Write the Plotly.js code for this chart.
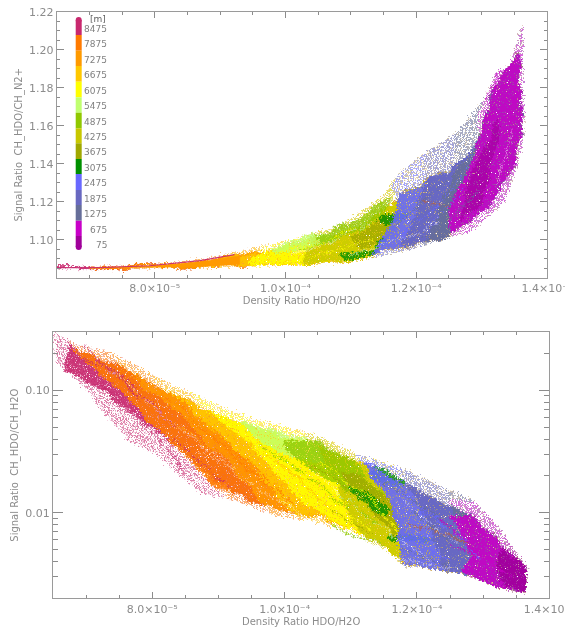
<!DOCTYPE html>
<html><head><meta charset="utf-8">
<script src="https://cdn.plot.ly/plotly-3.0.1.min.js"></script>
<style>html,body{margin:0;padding:0;background:#fff}#plot{width:565px;height:630px;filter:blur(0.45px)}</style>
</head><body>
<svg width="0" height="0" style="position:absolute"><defs>
<filter id="fray" x="-3%" y="-3%" width="106%" height="106%" color-interpolation-filters="sRGB">
 <feTurbulence type="fractalNoise" baseFrequency="0.05" numOctaves="2" seed="11" result="w"/>
 <feDisplacementMap in="SourceGraphic" in2="w" scale="10" xChannelSelector="R" yChannelSelector="G" result="d0"/>
 <feTurbulence type="fractalNoise" baseFrequency="0.42" numOctaves="2" seed="4" result="n"/>
 <feDisplacementMap in="d0" in2="n" scale="7" xChannelSelector="R" yChannelSelector="G" result="d"/>
 <feTurbulence type="fractalNoise" baseFrequency="1.1" numOctaves="1" seed="9" result="s"/>
 <feColorMatrix in="s" type="matrix" values="0 0 0 0 0 0 0 0 0 0 0 0 0 0 0 0 0 0 7 -1.9" result="m"/>
 <feComposite in="d" in2="m" operator="in"/>
</filter>
<filter id="stipple" x="-3%" y="-3%" width="106%" height="106%" color-interpolation-filters="sRGB">
 <feTurbulence type="fractalNoise" baseFrequency="0.42" numOctaves="2" seed="7" result="n"/>
 <feDisplacementMap in="SourceGraphic" in2="n" scale="9" xChannelSelector="R" yChannelSelector="G" result="d"/>
 <feTurbulence type="fractalNoise" baseFrequency="1.3" numOctaves="1" seed="2" result="s"/>
 <feColorMatrix in="s" type="matrix" values="0 0 0 0 0 0 0 0 0 0 0 0 0 0 0 0 0 0 9 -4.2" result="m"/>
 <feComposite in="d" in2="m" operator="in"/>
</filter>
</defs></svg>
<div id="plot"></div>
<script>
// Values. x values are in units of 1e-5.
const altitudes=[8475,7875,7275,6675,6075,5475,4875,4275,3675,3075,2475,1875,1275,675,75];
const bandColors=['#c8286e','#ff7a00','#ff9a00','#ffc800','#ffff00','#c0ff70','#90c800','#c8c800','#a0a800','#009000','#6868ff','#6868c0','#666e99','#c800c8','#a0009a'];

// ---- Panel 1: Signal ratio CH_HDO/CH_N2+ ----
// cloud outline (sparse outer edge) and dense core outline
const nOuterTopX=[6.50,7.16,8.03,8.69,9.30,9.91,10.22,10.83,11.14,11.49,11.75,12.17,12.62,13.08,13.24,13.44,13.62];
const nOuterTopY=[1.0855,1.0855,1.0868,1.0895,1.0932,1.0984,1.1011,1.1068,1.1142,1.1226,1.1353,1.1458,1.1563,1.1752,1.1884,1.1910,1.2120];
const nOuterLowX=[6.50,7.16,8.03,8.69,9.45,10.22,10.83,11.34,11.86,12.36,12.87,13.33,13.54,13.65,13.62];
const nOuterLowY=[1.0850,1.0845,1.0853,1.0855,1.0863,1.0874,1.0884,1.0911,1.0947,1.10,1.1053,1.1195,1.1384,1.1589,1.1826];
const nCoreTopX=[6.50,7.16,8.03,8.69,9.30,9.91,10.22,10.83,11.14,11.49,11.71,12.10,12.52,12.98,13.18,13.28,13.54];
const nCoreTopY=[1.0853,1.0853,1.0863,1.0884,1.0916,1.0958,1.0979,1.1026,1.1079,1.1147,1.1210,1.1316,1.1368,1.1526,1.1805,1.1858,1.1984];
const nCoreLowX=[6.50,7.16,8.03,8.69,9.45,10.22,10.83,11.34,11.86,12.36,12.87,13.13,13.44,13.59,13.59];
const nCoreLowY=[1.0850,1.0847,1.0855,1.0858,1.0868,1.0879,1.0890,1.0921,1.0963,1.1021,1.1095,1.1184,1.1368,1.1552,1.1789];
// where each height band begins, read across the cloud from its upper to its lower edge
const nFrom7875x=[7.00,7.00,7.00,7.00];
const nFrom7875y=[1.0855,1.0853,1.0850,1.0846];
const nFrom7275x=[7.54,7.54,7.77,7.77];
const nFrom7275y=[1.0858,1.0856,1.0853,1.0850];
const nFrom6675x=[9.15,9.15,8.92,8.69,8.69];
const nFrom6675y=[1.0926,1.0916,1.0879,1.0861,1.0855];
const nFrom6075x=[9.64,9.64,9.45,9.45,9.45];
const nFrom6075y=[1.0963,1.0942,1.0884,1.0868,1.0863];
const nFrom4275x=[10.37,10.37,10.30,10.30,10.30];
const nFrom4275y=[1.1032,1.1005,1.0921,1.0884,1.0874];
const nFrom2475x=[11.63,11.71,11.68,11.45,11.32,11.29];
const nFrom2475y=[1.1289,1.1210,1.1105,1.0974,1.0926,1.0908];
const nFrom1875x=[12.13,12.13,12.06,11.90,11.75,11.75];
const nFrom1875y=[1.1447,1.1316,1.1184,1.1053,1.0968,1.0942];
const nFrom1275x=[12.59,12.59,12.36,12.36,12.13,12.13];
const nFrom1275y=[1.1552,1.1358,1.1184,1.1079,1.0995,1.0974];
const nFrom675x=[12.95,12.98,12.78,12.52,12.52,12.55];
const nFrom675y=[1.1658,1.1526,1.1342,1.1184,1.1042,1.1016];
// dense patches
const nPatch5475x=[9.76,10.22,10.68,10.76,10.22,9.83];
const nPatch5475y=[1.0958,1.10,1.1042,1.10,1.0947,1.0921];
const nPatch4875x=[10.45,10.91,11.37,11.60,11.52,10.99,10.53];
const nPatch4875y=[1.1011,1.1079,1.1174,1.1221,1.1132,1.1026,1.0968];
const nPatch3675x=[10.99,11.52,11.68,11.68,11.14];
const nPatch3675y=[1.1011,1.1116,1.1132,1.1026,1.0947];
const nPatch3075x=[10.83,11.34,11.52,11.60,11.37,10.91,null,11.37,11.75,11.90,11.52];
const nPatch3075y=[1.0921,1.0947,1.1021,1.10,1.0926,1.0900,null,1.1095,1.1147,1.1132,1.1063];
const nPatch75x=[12.82,13.13,13.28,13.13,12.98,12.67];
const nPatch75y=[1.1342,1.1526,1.1631,1.1368,1.1184,1.1105];
// the thin, clean tail at low density ratio
const nTailX=[7.00,8.03,8.69,9.30,9.30,8.69,8.03,7.00];
const nTailY=[1.0853,1.0863,1.0884,1.0916,1.0870,1.0858,1.0855,1.0847];
// individual strands
const nStrand8475x=[6.50,7.16,7.92,8.69,9.22];
const nStrand8475y=[1.0853,1.0853,1.0863,1.0890,1.0921];
const nStrand7275x=[8.54,9.15,9.64];
const nStrand7275y=[1.0874,1.0905,1.0937];
const nStrand6075x=[9.91,10.53,11.06,null,10.22,10.83,11.37];
const nStrand6075y=[1.0937,1.0974,1.1063,null,1.0905,1.0947,1.1011];
const nStrand4875x=[10.22,10.83,11.45];
const nStrand4875y=[1.0947,1.1011,1.1132];
const nStrand2475x=[11.75,12.36,12.82,null,12.21,12.75];
const nStrand2475y=[1.1026,1.1184,1.1395,null,1.1079,1.1263];
const nStrand1275x=[11.68,12.06,12.44,null,12.06,12.59,12.98];
const nStrand1275y=[1.1063,1.1184,1.1316,null,1.10,1.1132,1.1263];
const nStrand675x=[13.08,13.24,13.44,null,13.36,13.59];
const nStrand675y=[1.1736,1.1884,1.1905,null,1.1473,1.1894];
const nStrandRustX=[12.10,12.52];
const nStrandRustY=[1.1210,1.1174];
const nStrandPaleX=[10.07,10.68,11.29,null,11.52,11.75,12.06,null,11.90,12.36,12.82,null,10.99,11.75,12.36,null,12.82,13.13,null,13.21,13.47];
const nStrandPaleY=[1.0926,1.0984,1.1095,null,1.1184,1.1237,1.1326,null,1.1342,1.1447,1.1589,null,1.0921,1.10,1.1079,null,1.1421,1.1736,null,1.1263,1.1579];

// ---- Panel 2: Signal ratio CH_HDO/CH_H2O ----
const wOuterTopX=[6.52,6.95,7.35,7.70,8.22,8.72,9.21,9.93,10.43,11.09,11.70,12.35,12.85,13.21,13.45,13.66,13.62];
const wOuterTopY=[.294,.222,.206,.162,.115,.0873,.0659,.0507,.0436,.030,.0235,.0165,.0124,.0078,.0051,.0036,.0027];
const wOuterLowX=[6.55,7.05,7.23,7.63,8.07,8.37,8.72,9.21,9.93,10.43,11.03,11.59,11.79,12.35,12.69,13.21,13.59];
const wOuterLowY=[.171,.0976,.0697,.0397,.030,.0214,.0148,.0129,.0094,.0086,.0070,.0048,.0037,.0036,.0032,.0025,.00225];
const wCoreTopX=[6.75,6.95,7.46,7.96,8.46,8.97,9.47,9.93,10.43,11.03,11.70,12.30,12.80,13.15,13.45,13.65,13.62];
const wCoreTopY=[.235,.2026,.162,.115,.084,.0635,.0507,.0436,.0362,.0263,.0188,.0124,.0094,.0065,.0044,.0036,.0027];
const wCoreLowX=[6.70,7.31,7.85,8.31,8.72,9.21,9.93,10.43,11.03,11.54,11.79,12.30,12.75,13.25,13.59];
const wCoreLowY=[.147,.0976,.0578,.0376,.0227,.0148,.0107,.0094,.0074,.0051,.0038,.0035,.0031,.0025,.00225];
const wFrom7875x=[6.75,6.78,7.66,8.41,8.94,9.09];
const wFrom7875y=[.2535,.2266,.084,.033,.0162,.0134];
const wFrom7275x=[7.35,7.51,8.41,9.24,9.70,9.80];
const wFrom7275y=[.206,.1587,.0635,.0227,.0118,.0098];
const wFrom6675x=[7.96,8.19,8.94,9.70,10.08,10.23];
const wFrom6675y=[.1367,.1013,.0479,.0188,.0103,.0089];
const wFrom6075x=[8.56,8.79,9.47,10.08,10.61,10.76];
const wFrom6075y=[.096,.0697,.0362,.0156,.0089,.0078];
const wFrom4275x=[10.30,10.38,10.76,10.99,11.21,11.32];
const wFrom4275y=[.0445,.0362,.0188,.0098,.0061,.0056];
const wFrom2475x=[11.09,11.17,11.51,11.74,11.74,11.79];
const wFrom2475y=[.030,.0259,.0156,.0074,.0042,.0037];
const wFrom1875x=[11.74,11.82,12.12,12.32,12.35,12.42];
const wFrom1875y=[.0231,.0181,.0098,.0051,.0036,.0035];
const wFrom1275x=[12.42,12.50,12.72,12.80,12.80,12.83];
const wFrom1275y=[.0159,.0118,.0074,.0042,.0032,.0030];
const wFrom675x=[12.50,12.50,12.72,12.80,12.68,12.62];
const wFrom675y=[.0129,.0094,.0061,.0044,.0034,.0032];
const wFrom75x=[13.33,13.33,13.18,13.25,13.33,13.41];
const wFrom75y=[.0062,.0053,.0038,.0029,.0025,.0024];
const wPatch5475x=[9.32,10.00,10.53,10.61,10.08,9.55];
const wPatch5475y=[.0557,.0454,.0348,.0263,.0284,.0412];
const wPatch4875x=[10.00,10.53,11.06,11.51,11.36,10.91,10.38,10.08];
const wPatch4875y=[.0397,.0362,.0259,.0142,.0129,.0156,.0227,.030];
const wPatch3675x=[10.83,11.29,11.66,11.89,11.66,11.29];
const wPatch3675y=[.0227,.0188,.0107,.0061,.0067,.0107];
const wPatch3075x=[11.01,11.29,11.56,11.53,11.26,11.01,null,11.32,11.59,11.82,11.77,11.51,11.32,null,11.59,11.97,12.30,12.30,11.92,11.59];
const wPatch3075y=[.0165,.0137,.0107,.0096,.0112,.0142,null,.0235,.0214,.0181,.0162,.0181,.0206,null,.0067,.0063,.0060,.0056,.0058,.0060];
const wStrand8475x=[6.95,7.66,8.34,null,6.75,7.28,7.81,null,7.20,7.96,8.49,null,8.34,9.17];
const wStrand8475y=[.235,.111,.0527,null,.195,.162,.084,null,.111,.0479,.0227,null,.0397,.0156];
const wStrand7875x=[8.11,9.02,9.93,null,8.56,9.47,10.23];
const wStrand7875y=[.0922,.0397,.0156,null,.0578,.0227,.0107];
const wStrand7275x=[7.81,8.87,9.77,null,8.41,9.47,10.08,null,7.51,8.41];
const wStrand7275y=[.111,.0462,.0195,null,.0527,.0188,.0118,null,.142,.0697];
const wStrand6675x=[8.72,9.62,10.23,null,9.17,10.23,10.76];
const wStrand6675y=[.0578,.0227,.0107,null,.0479,.0188,.0098];
const wStrand6075x=[10.08,10.83,11.29,null,10.53,11.29,11.74,null,9.47,10.08];
const wStrand6075y=[.0227,.0107,.0074,null,.0273,.0129,.0067,null,.0397,.0249];
const wStrand4875x=[9.62,10.38,10.99,null,10.83,11.51,null,10.68,11.51];
const wStrand4875y=[.0362,.0188,.0107,null,.0142,.0074,null,.0081,.0051];
const wStrand3675x=[10.38,10.99,11.59,null,10.68,11.29];
const wStrand3675y=[.0249,.0156,.0074,null,.0107,.0067];
const wStrand2475x=[11.74,12.50,12.95,null,11.82,12.50,null,12.04,12.80];
const wStrand2475y=[.0156,.0074,.0042,null,.0061,.0042,null,.0107,.0056];
const wStrand1275x=[11.51,12.19,12.72,null,11.89,12.50,null,11.74,12.50];
const wStrand1275y=[.0171,.0107,.0056,null,.0107,.0061,null,.0051,.0038];
const wStrand675x=[12.35,12.95,13.41,null,12.50,13.10,null,12.80,13.48];
const wStrand675y=[.0089,.0046,.0029,null,.0056,.0035,null,.0081,.0042];
const wStrandRustX=[11.89,12.50,12.80];
const wStrandRustY=[.0081,.0067,.0053];
const wStrandPaleX=[7.35,8.26,9.24,null,8.72,9.62,10.53,null,10.38,11.29,12.19,null,11.74,12.65,null,11.29,11.89,12.65];
const wStrandPaleY=[.147,.0578,.0227,null,.033,.0156,.0081,null,.0227,.0089,.0042,null,.0129,.0056,null,.0046,.0040,.0035];

// ---- Ticks ----
const xTickVals=[8,10,12,14];
const xTickText=['8.0×10⁻⁵','1.0×10⁻⁴','1.2×10⁻⁴','1.4×10⁻⁴'];
const xMinorVals=[6.5,7,7.5,8.5,9,9.5,10.5,11,11.5,12.5,13,13.5];
const nTickVals=[1.10,1.12,1.14,1.16,1.18,1.20,1.22];
const nTickText=['1.10','1.12','1.14','1.16','1.18','1.20','1.22'];
const wTickVals=[0.1,0.01];
const wTickText=['0.10','0.01'];
const wMinorVals=[.2,.3,.09,.08,.07,.06,.05,.04,.03,.02,.009,.008,.007,.006,.005,.004,.003,.002];

const scale=a=>a.map(v=>v===null?null:v*1e-5);
const color=Object.fromEntries(altitudes.map((a,i)=>[a,bandColors[i]]));
const pale=(hex,k)=>{const n=parseInt(hex.slice(1),16),c=[n>>16,(n>>8)&255,n&255].map(v=>Math.round(v+(255-v)*k));return `rgb(${c})`;};
const traces=[];
function fillTrace(ax,xs,ys,col,op,edge,meta){
  traces.push({type:'scatter',mode:'lines',xaxis:ax[0],yaxis:ax[1],x:scale(xs),y:ys,fill:'toself',fillcolor:col,opacity:op,meta:meta,
    line:{width:edge||0,color:col},hoverinfo:'skip',showlegend:false});
}
function strand(ax,xs,ys,col,op,w,meta){
  traces.push({type:'scatter',mode:'lines',xaxis:ax[0],yaxis:ax[1],x:scale(xs),y:ys,opacity:op,connectgaps:false,meta:meta,
    line:{width:w||1,color:col},hoverinfo:'skip',showlegend:false});
}
// A band covers the cloud from the line where it begins to the cloud's right-hand end; later bands paint over it.
function region(topX,topY,lowX,lowY,fromX,fromY){
  const n=fromX.length, xs=fromX.slice(), ys=fromY.slice();
  lowX.forEach((v,i)=>{if(v>fromX[n-1]){xs.push(v);ys.push(lowY[i]);}});
  for(let i=topX.length-1;i>=0;i--){if(topX[i]>fromX[0]){xs.push(topX[i]);ys.push(topY[i]);}}
  return [xs,ys];
}
function drawPanel(ax,env,paint){
  paint.forEach(p=>{ if(p.patch) return;
    const r=p.fromX?region(env.oTX,env.oTY,env.oLX,env.oLY,p.fromX,p.fromY):[env.oTX.concat(env.oLX.slice().reverse()),env.oTY.concat(env.oLY.slice().reverse())];
    fillTrace(ax,r[0],r[1],pale(color[p.alt],0.4),1,1,'stipple');
  });
  paint.forEach(p=>{
    if(p.patch){fillTrace(ax,p.patch[0],p.patch[1],color[p.alt],p.op||0.8,1,'fray');return;}
    const fx=p.fromX?p.fromX.slice(1,-1):null, fy=p.fromY?p.fromY.slice(1,-1):null;
    const r=fx?region(env.cTX,env.cTY,env.cLX,env.cLY,fx,fy):[env.cTX.concat(env.cLX.slice().reverse()),env.cTY.concat(env.cLY.slice().reverse())];
    fillTrace(ax,r[0],r[1],color[p.alt],0.9,1,'fray');
  });
}
const A1=['x','y'],A2=['x2','y2'];
drawPanel(A1,{oTX:nOuterTopX,oTY:nOuterTopY,oLX:nOuterLowX,oLY:nOuterLowY,cTX:nCoreTopX,cTY:nCoreTopY,cLX:nCoreLowX,cLY:nCoreLowY},[
 {alt:8475},{alt:7875,fromX:nFrom7875x,fromY:nFrom7875y},{alt:7275,fromX:nFrom7275x,fromY:nFrom7275y},{alt:6675,fromX:nFrom6675x,fromY:nFrom6675y},
 {alt:6075,fromX:nFrom6075x,fromY:nFrom6075y},{alt:4275,fromX:nFrom4275x,fromY:nFrom4275y},
 {alt:5475,patch:[nPatch5475x,nPatch5475y]},{alt:4875,patch:[nPatch4875x,nPatch4875y]},{alt:3675,patch:[nPatch3675x,nPatch3675y]},{alt:3075,patch:[nPatch3075x,nPatch3075y]},
 {alt:2475,fromX:nFrom2475x,fromY:nFrom2475y},{alt:1875,fromX:nFrom1875x,fromY:nFrom1875y},{alt:1275,fromX:nFrom1275x,fromY:nFrom1275y},{alt:675,fromX:nFrom675x,fromY:nFrom675y},
 {alt:75,patch:[nPatch75x,nPatch75y],op:0.6}]);
fillTrace(A1,nTailX,nTailY,color[7275],1,0.5);
[[nStrand7275x,nStrand7275y,7275],[nStrand6075x,nStrand6075y,6075],[nStrand4875x,nStrand4875y,4875],[nStrand2475x,nStrand2475y,2475],[nStrand1275x,nStrand1275y,1275],[nStrand675x,nStrand675y,675]]
 .forEach(s=>strand(A1,s[0],s[1],color[s[2]],0.8,1,'fray'));
strand(A1,nStrand8475x,nStrand8475y,color[8475],0.9,1.2);
strand(A1,nStrandRustX,nStrandRustY,'#b0604a',0.8,1.5,'fray');
strand(A1,nStrandPaleX,nStrandPaleY,'#ffffff',0.5,1,'fray');

drawPanel(A2,{oTX:wOuterTopX,oTY:wOuterTopY,oLX:wOuterLowX,oLY:wOuterLowY,cTX:wCoreTopX,cTY:wCoreTopY,cLX:wCoreLowX,cLY:wCoreLowY},[
 {alt:8475},{alt:7875,fromX:wFrom7875x,fromY:wFrom7875y},{alt:7275,fromX:wFrom7275x,fromY:wFrom7275y},{alt:6675,fromX:wFrom6675x,fromY:wFrom6675y},
 {alt:6075,fromX:wFrom6075x,fromY:wFrom6075y},{alt:4275,fromX:wFrom4275x,fromY:wFrom4275y},
 {alt:5475,patch:[wPatch5475x,wPatch5475y]},{alt:4875,patch:[wPatch4875x,wPatch4875y]},{alt:3675,patch:[wPatch3675x,wPatch3675y]},{alt:3075,patch:[wPatch3075x,wPatch3075y]},
 {alt:2475,fromX:wFrom2475x,fromY:wFrom2475y},{alt:1875,fromX:wFrom1875x,fromY:wFrom1875y},{alt:1275,fromX:wFrom1275x,fromY:wFrom1275y},{alt:675,fromX:wFrom675x,fromY:wFrom675y},{alt:75,fromX:wFrom75x,fromY:wFrom75y}]);
[[wStrand7875x,wStrand7875y,7875],[wStrand7275x,wStrand7275y,7275],[wStrand6675x,wStrand6675y,6675],[wStrand6075x,wStrand6075y,6075],[wStrand4875x,wStrand4875y,4875],[wStrand3675x,wStrand3675y,3675],[wStrand2475x,wStrand2475y,2475],[wStrand1275x,wStrand1275y,1275],[wStrand675x,wStrand675y,675],[wStrand8475x,wStrand8475y,8475]]
 .forEach(s=>strand(A2,s[0],s[1],color[s[2]],0.8,1.2,'fray'));
strand(A2,wStrandRustX,wStrandRustY,'#b0604a',0.8,1.5,'fray');
strand(A2,wStrandPaleX,wStrandPaleY,'#ffffff',0.5,1,'fray');

const W=565,H=630,grey='#8c8c8c',fam='DejaVu Sans, sans-serif',font={family:fam,size:10,color:grey},tickFont={family:fam,size:11,color:grey};
const px=v=>v/W, py=v=>1-v/H;
const X0=56.7,X1=547,Y0=277.7,Y1=11.7;
function xAxis(dom,anchor){return {domain:[px(dom[0]),px(dom[1])],anchor:anchor,range:[6.5e-5,1.4e-4],
  tickmode:'array',tickvals:scale(xTickVals),ticktext:xTickText,ticks:'inside',ticklen:6,tickwidth:1,tickcolor:grey,
  minor:{tickmode:'array',tickvals:scale(xMinorVals),ticks:'inside',ticklen:3,tickwidth:1,tickcolor:grey,showgrid:false},
  showline:true,linecolor:'#9a9a9a',linewidth:1,mirror:'allticks',showgrid:false,zeroline:false,
  tickfont:tickFont,ticklabeloverflow:'allow',title:{text:'Density Ratio HDO/H2O',font:font,standoff:1}};}
const layout={width:W,height:H,margin:{l:0,r:0,t:0,b:0},paper_bgcolor:'#fff',plot_bgcolor:'#fff',showlegend:false,
  xaxis:xAxis([X0,X1],'y'),
  xaxis2:xAxis([53,549.3],'y2'),
  yaxis:{domain:[py(Y0),py(Y1)],anchor:'x',range:[1.08,1.22],tickmode:'array',tickvals:nTickVals,ticktext:nTickText,
    ticks:'inside',ticklen:7,tickwidth:1,tickcolor:grey,
    minor:{dtick:0.005,ticks:'inside',ticklen:3,tickwidth:1,tickcolor:grey,showgrid:false},
    showline:true,linecolor:'#9a9a9a',linewidth:1,mirror:'allticks',showgrid:false,zeroline:false,tickfont:tickFont,
    title:{text:'Signal Ratio  CH_HDO/CH_N2+',font:font,standoff:4}},
  yaxis2:{domain:[py(598.3),py(332)],anchor:'x2',type:'log',range:[Math.log10(0.002),Math.log10(0.3)],tickmode:'array',tickvals:wTickVals,ticktext:wTickText,
    ticks:'inside',ticklen:10,tickwidth:1,tickcolor:grey,
    minor:{tickmode:'array',tickvals:wMinorVals,ticks:'inside',ticklen:5,tickwidth:1,tickcolor:grey,showgrid:false},
    showline:true,linecolor:'#9a9a9a',linewidth:1,mirror:'allticks',showgrid:false,zeroline:false,tickfont:tickFont,
    title:{text:'Signal Ratio  CH_HDO/CH_H2O',font:font,standoff:4}},
  shapes:[],annotations:[]};
const keyEdges=[17,35,50.7,66,81.7,97.3,112.7,128.3,143.3,159,174,190,205,220.7,236,250];
altitudes.forEach((a,i)=>{
  layout.shapes.push({type:'line',xref:'paper',yref:'paper',x0:px(78.7),x1:px(78.7),y0:py(i==0?20:keyEdges[i]),y1:py(i==14?247:keyEdges[i+1]),line:{color:bandColors[i],width:6}});
  layout.annotations.push({xref:'paper',yref:'paper',x:px(108.5),y:py(29+i*15.43),xanchor:'right',yanchor:'middle',showarrow:false,text:String(a),font:{family:fam,size:9,color:'#808080'}});
});
layout.annotations.push({xref:'paper',yref:'paper',x:px(88),y:py(19),xanchor:'left',yanchor:'middle',showarrow:false,text:'[m]',font:{family:fam,size:9,color:'#606060'}});
[[20,bandColors[0]],[247,bandColors[14]]].forEach(c=>layout.shapes.push({type:'circle',xref:'paper',yref:'paper',fillcolor:c[1],line:{width:0},x0:px(75.7),x1:px(81.7),y0:py(c[0]-3),y1:py(c[0]+3)}));
Plotly.newPlot('plot',traces,layout,{displayModeBar:false,staticPlot:true}).then(gd=>{
  // Dot-cloud look: each cloud trace is drawn through a fine grain filter.
  gd.querySelectorAll('.scatterlayer .trace').forEach(el=>{
    const d=el.__data__&&el.__data__[0]; const m=d&&d.trace&&d.trace.meta;
    if(m) el.setAttribute('filter','url(#'+m+')');
  });
});
</script></body></html>
